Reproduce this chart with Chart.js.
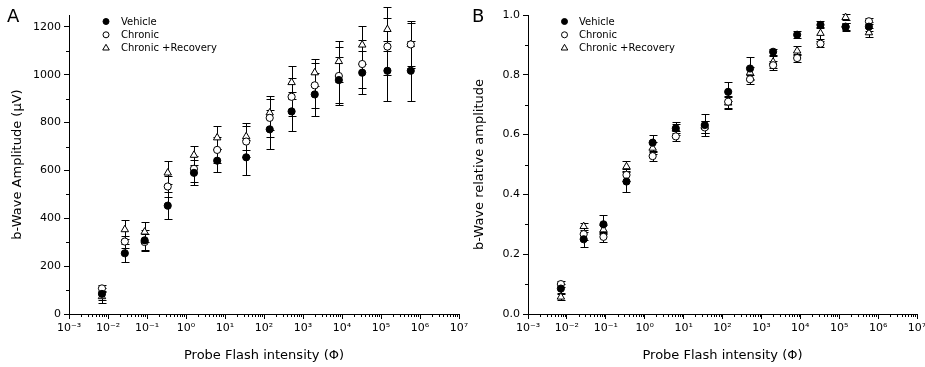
<!DOCTYPE html>
<html>
<head>
<meta charset="utf-8">
<script src="https://cdn.jsdelivr.net/npm/chart.js@4.4.0/dist/chart.umd.min.js"></script>
<style>
body { margin: 0; background: #fff; }
#wrap { position: relative; width: 925px; height: 367px; overflow: hidden; font-family: "DejaVu Sans", sans-serif; }
canvas { position: absolute; top: 0; }
.panel { position: absolute; top: 7px; font-size: 18px; line-height: 18px; color: #000; }
</style>
</head>
<body>
<div id="wrap">
  <canvas id="chartA" width="480" height="367" style="left:0"></canvas>
  <canvas id="chartB" width="470" height="367" style="left:460px"></canvas>
  <div class="panel" style="left:7px">A</div>
  <div class="panel" style="left:472px">B</div>
</div>
<script>
// flash intensities (log axis)
const intensity = [0.007, 0.027, 0.087, 0.34, 1.6, 6.3, 35, 140, 510, 2000, 8300, 33000, 146000, 580000];
const decades = [1e-3, 1e-2, 1e-1, 1, 10, 100, 1e3, 1e4, 1e5, 1e6, 1e7];
const decadeLabels = ['10⁻³', '10⁻²', '10⁻¹', '10⁰', '10¹', '10²', '10³', '10⁴', '10⁵', '10⁶', '10⁷'];
const seriesNames = ['Vehicle', 'Chronic', 'Chronic +Recovery'];

// panel A: b-wave amplitude (uV)
const vehicleAmp = [84, 254, 308, 453, 590, 641, 655, 772, 847, 918, 978, 1009, 1017, 1017];
const vehicleAmpErr = [25, 37, 45, 55, 52, 48, 72, 82, 80, 90, 95, 90, 125, 125];
const chronicAmp = [107, 303, 301, 533, 607, 686, 721, 820, 908, 956, 995, 1045, 1118, 1127];
const chronicAmpErr = [15, 25, 35, 45, 55, 55, 65, 80, 80, 95, 120, 100, 120, 90];
const recovAmp = [73, 353, 343, 590, 664, 737, 742, 841, 968, 1009, 1056, 1125, 1190, 1127];
const recovAmpErr = [25, 40, 43, 48, 40, 47, 58, 72, 70, 55, 87, 80, 92, 100];

// panel B: relative amplitude
const vehicleRel = [0.085, 0.25, 0.30, 0.443, 0.573, 0.621, 0.632, 0.743, 0.821, 0.877, 0.934, 0.967, 0.96, 0.961];
const vehicleRelErr = [0.015, 0.025, 0.03, 0.035, 0.027, 0.022, 0.038, 0.032, 0.04, 0.01, 0.012, 0.012, 0.012, 0.015];
const chronicRel = [0.10, 0.267, 0.258, 0.465, 0.528, 0.594, 0.624, 0.71, 0.785, 0.832, 0.856, 0.904, 0.961, 0.979];
const chronicRelErr = [0.01, 0.02, 0.017, 0.02, 0.015, 0.017, 0.02, 0.02, 0.015, 0.015, 0.012, 0.01, 0.012, 0.01];
const recovRel = [0.057, 0.293, 0.282, 0.493, 0.555, 0.619, 0.626, 0.706, 0.807, 0.843, 0.88, 0.939, 0.992, 0.941];
const recovRelErr = [0.01, 0.012, 0.015, 0.018, 0.02, 0.015, 0.02, 0.02, 0.02, 0.02, 0.015, 0.02, 0.01, 0.015];

Chart.defaults.font.family = '"DejaVu Sans", sans-serif';
Chart.defaults.color = '#000';

// error bars go under the markers
const errorBars = {
  id: 'errorBars',
  beforeDatasetsDraw(chart) {
    const ctx = chart.ctx, ys = chart.scales.y;
    ctx.save();
    ctx.strokeStyle = '#000';
    ctx.lineWidth = 1;
    chart.data.datasets.forEach((ds, i) => {
      const meta = chart.getDatasetMeta(i);
      meta.data.forEach((pt, j) => {
        const v = ds.data[j].y, e = ds.errors[j];
        const x = Math.round(pt.x) + 0.5;
        const y1 = Math.round(ys.getPixelForValue(v + e)) + 0.5;
        const y2 = Math.round(ys.getPixelForValue(v - e)) + 0.5;
        ctx.beginPath();
        ctx.moveTo(x, y1); ctx.lineTo(x, y2);
        ctx.moveTo(x - 4, y1); ctx.lineTo(x + 4, y1);
        ctx.moveTo(x - 4, y2); ctx.lineTo(x + 4, y2);
        ctx.stroke();
      });
    });
    ctx.restore();
  }
};

const minorTicks = {
  id: 'minorTicks',
  afterDraw(chart, args, opts) {
    const ctx = chart.ctx, xs = chart.scales.x, ys = chart.scales.y;
    ctx.save();
    ctx.strokeStyle = '#000';
    ctx.lineWidth = 1;
    ctx.beginPath();
    decades.slice(0, -1).forEach(d => {
      for (let m = 2; m <= 9; m++) {
        const px = Math.round(xs.getPixelForValue(m * d)) + 0.5;
        ctx.moveTo(px, xs.top); ctx.lineTo(px, xs.top + 3);
      }
    });
    for (let v = opts.yStep / 2; v < ys.max; v += opts.yStep) {
      const py = Math.round(ys.getPixelForValue(v)) + 0.5;
      ctx.moveTo(ys.right - 3, py); ctx.lineTo(ys.right, py);
    }
    ctx.stroke();
    ctx.restore();
  }
};

const insetLegend = {
  id: 'insetLegend',
  afterDraw(chart, args, opts) {
    const ctx = chart.ctx;
    ctx.save();
    ctx.font = '10px "DejaVu Sans"';
    ctx.textBaseline = 'middle';
    ctx.lineWidth = 1;
    ctx.strokeStyle = '#000';
    chart.data.datasets.forEach((ds, i) => {
      const y = opts.y + i * opts.row, x = opts.x;
      ctx.beginPath();
      if (ds.pointStyle === 'triangle') {
        const r = 3.8;
        ctx.moveTo(x, y - r);
        ctx.lineTo(x + r * 0.866, y + r * 0.5);
        ctx.lineTo(x - r * 0.866, y + r * 0.5);
        ctx.closePath();
      } else {
        ctx.arc(x, y, 3, 0, Math.PI * 2);
      }
      ctx.fillStyle = ds.pointBackgroundColor;
      ctx.fill();
      ctx.stroke();
      ctx.fillStyle = '#000';
      ctx.fillText(ds.label, opts.textX, y + 0.5);
    });
    ctx.restore();
  }
};

function makeDataset(label, values, errs, style, fill) {
  return {
    label: label,
    data: intensity.map((x, i) => ({x: x, y: values[i]})),
    errors: errs,
    pointStyle: style,
    pointRadius: style === 'triangle' ? 4.3 : 3.6,
    pointBackgroundColor: fill,
    pointBorderColor: '#000',
    pointBorderWidth: 1,
    showLine: false,
    clip: false
  };
}

function makeOptions(cfg) {
  return {
    responsive: false,
    animation: false,
    events: [],
    layout: { padding: { left: 0, right: cfg.padRight, top: 15, bottom: 0 } },
    plugins: {
      legend: { display: false },
      tooltip: { enabled: false },
      minorTicks: { yStep: cfg.yStep },
      insetLegend: { x: cfg.legendX, textX: cfg.textX, y: 21.5, row: 13.3 }
    },
    scales: {
      x: {
        type: 'logarithmic',
        min: 1e-3,
        max: 1e7,
        afterBuildTicks: s => { s.ticks = decades.map(v => ({value: v})); },
        afterFit: s => { s.height = 53; },
        ticks: {
          callback: (v, i) => decadeLabels[i],
          autoSkip: false,
          maxRotation: 0,
          padding: 3,
          font: { size: 11 }
        },
        grid: { drawOnChartArea: false, tickLength: 5, color: '#000', tickColor: '#000' },
        border: { color: '#000', width: 1 },
        title: { display: true, text: 'Probe Flash intensity (Φ)', font: { size: 13 }, padding: { top: 0, bottom: 4 } }
      },
      y: {
        min: 0,
        max: cfg.yMax,
        afterFit: s => { s.width = cfg.yWidth; },
        ticks: {
          stepSize: cfg.yStep,
          includeBounds: false,
          callback: cfg.yFmt,
          padding: 3,
          font: { size: 11 }
        },
        grid: { drawOnChartArea: false, tickLength: 5, color: '#000', tickColor: '#000' },
        border: { color: '#000', width: 1 },
        title: { display: true, text: cfg.yTitle, font: { size: 13 }, padding: { top: cfg.titlePad, bottom: 0 } }
      }
    }
  };
}

new Chart(document.getElementById('chartA'), {
  type: 'scatter',
  data: {
    datasets: [
      makeDataset(seriesNames[0], vehicleAmp, vehicleAmpErr, 'circle', '#000'),
      makeDataset(seriesNames[1], chronicAmp, chronicAmpErr, 'circle', '#fff'),
      makeDataset(seriesNames[2], recovAmp, recovAmpErr, 'triangle', '#fff')
    ]
  },
  options: makeOptions({
    yMax: 1250, yStep: 200, yWidth: 69, padRight: 21, titlePad: 10,
    yTitle: 'b-Wave Amplitude (μV)', yFmt: v => String(v),
    legendX: 106, textX: 121
  }),
  plugins: [errorBars, minorTicks, insetLegend]
});

new Chart(document.getElementById('chartB'), {
  type: 'scatter',
  data: {
    datasets: [
      makeDataset(seriesNames[0], vehicleRel, vehicleRelErr, 'circle', '#000'),
      makeDataset(seriesNames[1], chronicRel, chronicRelErr, 'circle', '#fff'),
      makeDataset(seriesNames[2], recovRel, recovRelErr, 'triangle', '#fff')
    ]
  },
  options: makeOptions({
    yMax: 1.0, yStep: 0.2, yWidth: 68, padRight: 13, titlePad: 12,
    yTitle: 'b-Wave relative amplitude', yFmt: v => v.toFixed(1),
    legendX: 104.5, textX: 119
  }),
  plugins: [errorBars, minorTicks, insetLegend]
});
</script>
</body>
</html>
